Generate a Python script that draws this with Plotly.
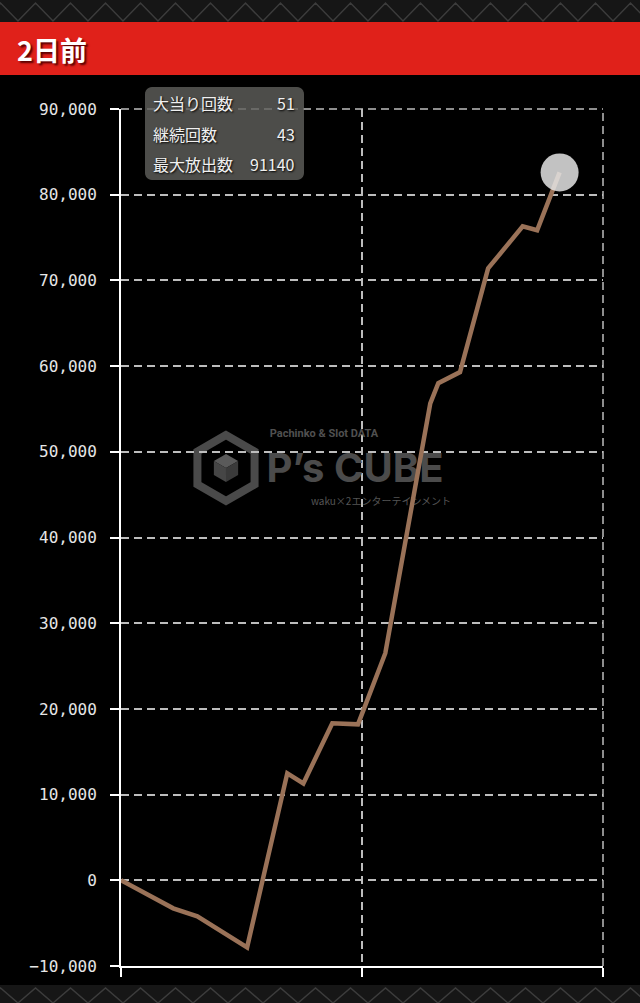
import math
import plotly.graph_objects as go

# ---------------- data ----------------
games = [0, 650, 950, 1570, 2070, 2270, 2630, 2950, 3290, 3850, 3950, 4220, 4570, 5000, 5180, 5460]
diff = [0, -3270, -4200, -7820, 12480, 11300, 18330, 18200, 26500, 55660, 58000, 59300, 71400, 76300, 75850, 82600]

y_ticks = [-10000, 0, 10000, 20000, 30000, 40000, 50000, 60000, 70000, 80000, 90000]
x_ticks = [0, 3000, 6000]

title_text = "2日前"
info_labels = ["大当り回数", "継続回数", "最大放出数"]
info_values = ["51", "43", "91140"]

# ---------------- layout geometry ----------------
W, H = 640, 1003
L, R, T, B = 121, 603, 109, 966
XMAX = 6000
YMIN, YMAX = -10000, 90000
GRID_COLOR = "#bdbdbd"
GRID_DASH = "8px,5px"


def pxx(px):
    return (px - L) / (R - L)


def pxy(py):
    return (B - py) / (B - T)


def dx(px):
    return (px - L) / (R - L) * XMAX


def dy(py):
    return YMIN + (B - py) / (B - T) * (YMAX - YMIN)


def path_px(points, close=True):
    s = "M " + " L ".join(f"{pxx(x):.5f},{pxy(y):.5f}" for x, y in points)
    return s + (" Z" if close else "")


fig = go.Figure()

# watermark text (drawn beneath the line)
fig.add_trace(go.Scatter(
    x=[dx(324), dx(355), dx(381)], y=[dy(434), dy(472), dy(502)],
    mode="text",
    text=["<b>Pachinko &amp; Slot DATA</b>", "<b>P’s CUBE</b>", "waku×2エンターテインメント"],
    textfont=dict(family=["Roboto", "Inter", "Noto Sans CJK JP"], size=[11, 40, 10],
                  color=["#505050", "#4b4b4b", "#555555"]),
    hoverinfo="skip", showlegend=False,
))

# main line
fig.add_trace(go.Scatter(
    x=games, y=diff, mode="lines",
    line=dict(color="#9a7258", width=4.5),
    hoverinfo="skip", showlegend=False,
))

# end marker
fig.add_trace(go.Scatter(
    x=games[-1:], y=diff[-1:], mode="markers",
    marker=dict(size=38, color="rgba(228,228,228,0.85)", line=dict(width=0)),
    hoverinfo="skip", showlegend=False,
))

shapes = []

# gridlines on the top and right edges of the plot
shapes.append(dict(type="line", xref="paper", yref="paper", x0=0, x1=1, y0=1, y1=1,
                   line=dict(color=GRID_COLOR, width=1.5, dash=GRID_DASH), layer="below"))
shapes.append(dict(type="line", xref="paper", yref="paper", x0=1, x1=1, y0=0, y1=1,
                   line=dict(color=GRID_COLOR, width=1.5, dash=GRID_DASH), layer="below"))

# top & bottom patterned strips
for y0, y1, peak, valley in [(0, 22, 3, 21), (985, 1003, 988, 1003)]:
    shapes.append(dict(type="rect", xref="paper", yref="paper",
                       x0=pxx(0), x1=pxx(W), y0=pxy(y1), y1=pxy(y0),
                       fillcolor="#161616", line=dict(width=0), layer="above"))
    pts = []
    x = -17
    while x < W + 35:
        pts.append((x, valley))
        pts.append((x + 17.5, peak))
        x += 35
    pts.append((x, valley))
    shapes.append(dict(type="path", xref="paper", yref="paper",
                       path=path_px(pts, close=False),
                       line=dict(color="#3c3c3c", width=1.5), layer="above"))

# red header bar
shapes.append(dict(type="rect", xref="paper", yref="paper",
                   x0=pxx(0), x1=pxx(W), y0=pxy(75), y1=pxy(22),
                   fillcolor="#e0211a", line=dict(width=0), layer="above"))

# watermark hexagon logo
cx, cy, rr = 226, 468, 33
hexpts = [(cx + rr * math.cos(math.radians(90 + 60 * k)), cy - rr * math.sin(math.radians(90 + 60 * k))) for k in range(6)]
shapes.append(dict(type="path", xref="paper", yref="paper", path=path_px(hexpts),
                   line=dict(color="#4a4a4a", width=8), fillcolor="rgba(0,0,0,0)", layer="below"))
r2 = 14
top = (cx, cy - r2)
ur = (cx + r2 * 0.866, cy - r2 / 2)
lr = (cx + r2 * 0.866, cy + r2 / 2)
bot = (cx, cy + r2)
ll = (cx - r2 * 0.866, cy + r2 / 2)
ul = (cx - r2 * 0.866, cy - r2 / 2)
ctr = (cx, cy)
for pts, col in [([top, ur, ctr, ul], "#5a5a5a"), ([ul, ctr, bot, ll], "#464646"), ([ctr, ur, lr, bot], "#3a3a3a")]:
    shapes.append(dict(type="path", xref="paper", yref="paper", path=path_px(pts),
                       line=dict(width=0), fillcolor=col, layer="below"))

# tooltip box (rounded)
bx0, bx1, by0, by1, rad = 145, 304, 87, 180, 7
rpts = []
for (ccx, ccy, a0) in [(bx1 - rad, by0 + rad, 90), (bx1 - rad, by1 - rad, 0), (bx0 + rad, by1 - rad, -90), (bx0 + rad, by0 + rad, -180)]:
    for k in range(7):
        a = math.radians(a0 - k * 15)
        rpts.append((ccx + rad * math.cos(a), ccy - rad * math.sin(a)))
shapes.append(dict(type="path", xref="paper", yref="paper", path=path_px(rpts),
                   fillcolor="rgba(96,96,92,0.8)", line=dict(width=0), layer="above"))

annotations = [
    dict(text=f"<b>{title_text}</b>", xref="paper", yref="paper", x=pxx(15), y=pxy(49),
         xanchor="left", yanchor="middle", showarrow=False,
         font=dict(family="Noto Sans CJK JP", size=27, color="#ffffff", shadow="2px 2px 2px #5a0000")),
]
row_y = [103, 134, 164]
for lab, val, ry in zip(info_labels, info_values, row_y):
    annotations.append(dict(text=lab, xref="paper", yref="paper", x=pxx(151), y=pxy(ry),
                            xanchor="left", yanchor="middle", showarrow=False,
                            font=dict(family="Noto Sans CJK JP", size=16, color="#f0f0f0",
                                      shadow="1px 1px 2px #000")))
    annotations.append(dict(text=val, xref="paper", yref="paper", x=pxx(297), y=pxy(ry),
                            xanchor="right", yanchor="middle", showarrow=False,
                            font=dict(family="Noto Sans CJK JP", size=16, color="#f0f0f0",
                                      shadow="1px 1px 2px #000")))

grid = dict(showgrid=True, gridcolor=GRID_COLOR, gridwidth=1.5, griddash=GRID_DASH)

fig.update_layout(
    width=W, height=H,
    margin=dict(l=L, r=W - R, t=T, b=H - B, pad=0),
    paper_bgcolor="#000000", plot_bgcolor="#000000",
    showlegend=False,
    shapes=shapes, annotations=annotations,
    xaxis=dict(range=[0, XMAX], tickvals=x_ticks, showticklabels=False,
               ticks="outside", ticklen=9, tickwidth=2, tickcolor="#ffffff",
               showline=True, linecolor="#ffffff", linewidth=2,
               zeroline=False, fixedrange=True, **grid),
    yaxis=dict(range=[YMIN, YMAX], tickvals=y_ticks, tickformat=",",
               ticks="outside", ticklen=9, tickwidth=2, tickcolor="#ffffff",
               ticklabelstandoff=10,
               tickfont=dict(family="DejaVu Sans Mono", size=16, color="#e6e6e6"),
               showline=True, linecolor="#ffffff", linewidth=2,
               zeroline=False, automargin=False, fixedrange=True, **grid),
)

fig.write_html(
    "out.html",
    config={"displayModeBar": False},
    post_script="document.body.style.margin='0';document.body.style.padding='0';"
                "document.body.style.overflow='hidden';document.body.style.background='#000';",
)
